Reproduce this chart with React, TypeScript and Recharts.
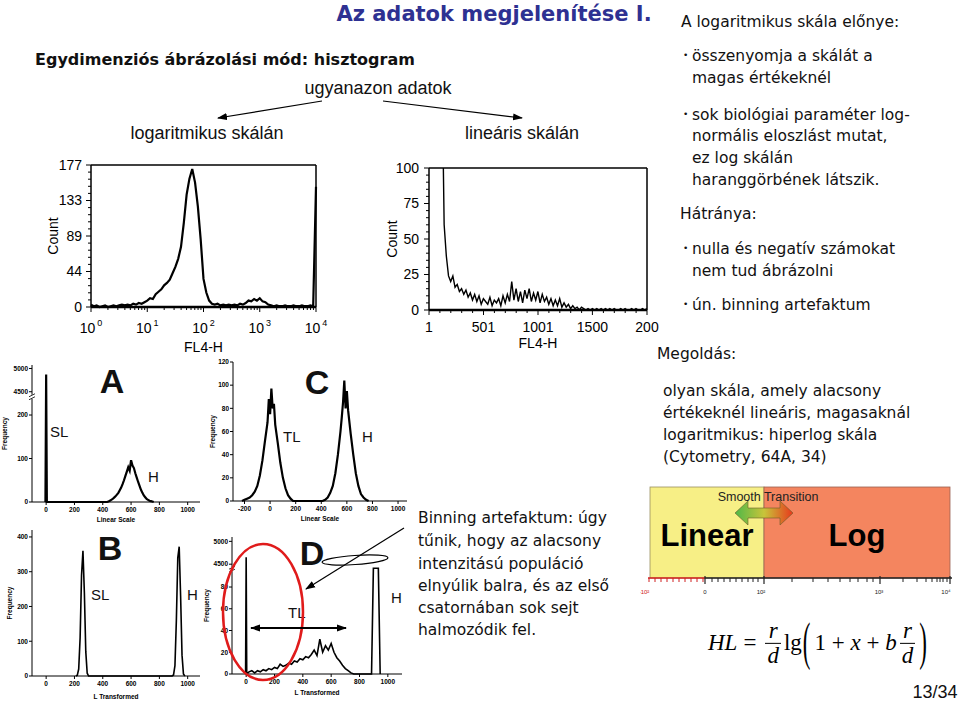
import React from 'react';
import { LineChart, Line, XAxis, YAxis, ReferenceLine } from 'recharts';

const SANS = '"Liberation Sans", Arial, sans-serif';
const HAND = '"DejaVu Sans", sans-serif';
const SERIF = '"Liberation Serif", "Times New Roman", serif';

// log-scale histogram: counts in 0.05-decade bins from 10^0 to 10^4
const logCounts = [
  3, 1, 2, 0, 1, 2, 0, 1, 2, 1,
  2, 3, 2, 3, 2, 4, 3, 5, 4, 6,
  8, 11, 10, 16, 19, 22, 27, 30, 34, 42,
  50, 60, 75, 105, 140, 160, 172, 155, 125, 84,
  35, 18, 8, 4, 3, 4, 2, 3, 2, 3,
  2, 3, 2, 4, 3, 5, 8, 7, 10, 8,
  11, 7, 6, 3, 2, 1, 2, 1, 1, 2,
  1, 1, 2, 1, 1, 2, 1, 1, 2, 1,
  150,
];
const logDecades = [0, 1, 2, 3, 4];
const logCountTicks = [0, 44.25, 88.5, 132.75, 177];

// linear histogram: counts in 20-channel bins from 100 to 2000
const linCounts = [
  400, 170, 60, 38, 24, 20, 24, 16, 18, 13,
  15, 11, 14, 9, 12, 7, 11, 6, 10, 4,
  8, 6, 4, 9, 3, 7, 5, 8, 3, 10,
  5, 11, 6, 20, 7, 15, 6, 13, 5, 14,
  8, 15, 6, 12, 7, 13, 5, 11, 6, 9,
  4, 8, 3, 7, 3, 8, 2, 5, 2, 4,
  1, 3, 1, 2, 0, 2, 1, 0, 1, 0,
  1, 0, 1, 0, 1, 0, 1, 0, 1, 0,
  1, 0, 0, 1, 0, 1, 0, 0, 1, 0,
  1, 0, 0, 1, 0, 1,
];
const linChannelTicks = [1, 501, 1001, 1500, 2001];
const linChannelLabels = ['1', '501', '1001', '1500', '200'];
const linCountTicks = [0, 25, 50, 75, 100];

// panel A (linear scale, SL + H)
const aX = [-5, 0, 5, 430, 440, 450, 460, 470, 480, 490, 500, 510, 520, 530, 540, 550, 560, 570, 580, 590, 600, 610, 620, 630, 640, 650, 660, 670, 680, 690, 700, 710, 720, 730, 740, 750, 760];
const aY = [0, 4870, 0, 0, 1, 3, 5, 7, 10, 13, 17, 21, 27, 33, 41, 50, 60, 70, 80, 72, 96, 84, 78, 66, 56, 46, 37, 28, 21, 15, 11, 7, 5, 3, 2, 1, 0];
const aFreqTicks = [0, 100, 200, 4500, 5000];

// panel B (L transformed, SL + H)
const bX = [210, 220, 230, 240, 250, 260, 270, 280, 290, 300, 890, 900, 910, 920, 930, 940, 950, 960, 970, 980];
const bY = [0, 2, 20, 110, 290, 360, 240, 70, 8, 0, 0, 3, 30, 160, 340, 372, 230, 60, 6, 0];
const bFreqTicks = [0, 100, 200, 300, 400];

// panel C (linear scale, TL + H)
const cX = [-220, -200, -180, -160, -140, -120, -100, -80, -60, -40, -20, -10, 0, 10, 20, 30, 40, 60, 80, 100, 120, 140, 160, 180,
  410, 430, 450, 470, 490, 510, 530, 550, 560, 570, 580, 590, 600, 610, 630, 650, 670, 690, 710, 730, 750, 770];
const cY = [0, 1, 2, 3, 5, 8, 13, 22, 35, 52, 68, 88, 75, 97, 80, 84, 66, 50, 33, 20, 11, 5, 2, 0,
  0, 1, 3, 7, 13, 24, 40, 60, 72, 85, 104, 80, 95, 78, 58, 40, 24, 13, 6, 3, 1, 0];
const cFreqTicks = [0, 20, 40, 60, 80, 100, 120];

// panel D (L transformed, TL + H)
const dX = [-4, 0, 4,
  20, 40, 60, 80, 100, 120, 140, 160, 180, 200,
  220, 240, 260, 280, 300, 320, 340, 360, 380, 400,
  420, 440, 460, 480, 500, 520, 540, 560, 580, 600,
  620, 640, 660, 680, 700, 720, 740, 760,
  885, 898, 933, 946];
const dY = [0, 4650, 0,
  2, 3, 1, 3, 2, 4, 3, 5, 4, 6,
  5, 9, 7, 8, 10, 9, 12, 11, 14, 13,
  16, 15, 18, 22, 17, 32, 20, 26, 22, 28,
  20, 15, 12, 8, 5, 3, 1, 0,
  0, 3000, 3000, 0];
const dFreqTicks = [0, 20, 40, 60, 80, 4500, 5000];

const scaleTicks = [0, 200, 400, 600, 800, 1000];
const cScaleTicks = [-200, 0, 200, 400, 600, 800, 1000];

// broken frequency axes
const breakA = (v: number) => (v <= 200 ? v : v < 4500 ? 200 + ((v - 200) * 53.5) / 4300 : 253.5 + ((v - 4500) * 53.5) / 500);
const breakD = (v: number) => (v <= 90 ? v : v < 4500 ? 90 + ((v - 90) * 11) / 4410 : 101 + ((v - 4500) * 21) / 500);

type TickOpt = { len: number; minor: number; gap: number; font: number; bold?: boolean; brk?: number };

function bottomTick(majors: number[], label: (i: number) => React.ReactNode, o: TickOpt) {
  return (p: any) => {
    const v = p.payload.value;
    const i = majors.findIndex((m) => Math.abs(m - v) < 1e-6);
    return (
      <g>
        <line x1={p.x} x2={p.x} y1={p.y} y2={p.y + (i >= 0 ? o.len : o.minor)} stroke="#000" strokeWidth={1} />
        {i >= 0 && (
          <text x={p.x} y={p.y + o.gap} textAnchor="middle" fontFamily={SANS} fontSize={o.font} fontWeight={o.bold ? 700 : 400} fill="#000">
            {label(i)}
          </text>
        )}
      </g>
    );
  };
}

function leftTick(majors: number[], label: (i: number) => React.ReactNode, o: TickOpt) {
  return (p: any) => {
    const v = p.payload.value;
    const i = majors.findIndex((m) => Math.abs(m - v) < 1e-6);
    return (
      <g>
        <line x1={p.x - (i >= 0 ? o.len : o.minor)} x2={p.x} y1={p.y} y2={p.y} stroke="#000" strokeWidth={1} />
        {i >= 0 && (
          <text x={p.x - o.gap} y={p.y} dy="0.35em" textAnchor="end" fontFamily={SANS} fontSize={o.font} fontWeight={o.bold ? 700 : 400} fill="#000">
            {label(i)}
          </text>
        )}
        {o.brk === i && (
          <g>
            <rect x={p.x - 2} y={p.y + 3} width={4} height={4} fill="#fff" />
            <line x1={p.x - 3} y1={p.y + 5} x2={p.x + 3} y2={p.y + 2} stroke="#000" strokeWidth={0.8} />
            <line x1={p.x - 3} y1={p.y + 8} x2={p.x + 3} y2={p.y + 5} stroke="#000" strokeWidth={0.8} />
          </g>
        )}
      </g>
    );
  };
}

const logMinorX: number[] = [];
for (let d = 0; d < 4; d++) for (let k = 2; k <= 9; k++) logMinorX.push(d + Math.log10(k));
const logMinorY: number[] = [];
for (let i = 1; i < 20; i++) if (i % 5) logMinorY.push(i * 8.85);
const linMinorX: number[] = [];
for (let c = 101; c < 2001; c += 100) if ((c - 1) % 500) linMinorX.push(c);
const linMinorY: number[] = [];
for (let c = 5; c < 100; c += 5) if (c % 25) linMinorY.push(c);

function LogHistogram() {
  const data = logCounts.map((c, i) => ({ x: i * 0.05, y: c }));
  return (
    <LineChart width={300} height={200} data={data} margin={{ top: 10, right: 14, bottom: 2, left: 0 }}>
      <XAxis
        dataKey="x" type="number" domain={[0, 4]} ticks={[...logDecades, ...logMinorX]} interval={0}
        tickSize={0} tickMargin={0} tickLine={false} height={46}
        axisLine={{ stroke: '#000', strokeWidth: 2.5 }}
        tick={bottomTick(logDecades, (i) => (<>10<tspan dx={2} dy={-7} fontSize={9}>{logDecades[i]}</tspan></>), { len: 5, minor: 3, gap: 26, font: 14 })}
        label={{ value: 'FL4-H', position: 'insideBottom', offset: 1, fontSize: 14, fill: '#000', style: { fontFamily: SANS, fontSize: 14 } }}
      />
      <YAxis
        type="number" domain={[0, 177]} ticks={[...logCountTicks, ...logMinorY]} interval={0} width={61}
        tickSize={0} tickMargin={0} tickLine={false}
        axisLine={{ stroke: '#000', strokeWidth: 1.5 }}
        tick={leftTick(logCountTicks, (i) => Math.round(logCountTicks[i]), { len: 5, minor: 3, gap: 9, font: 14 })}
        label={{ value: 'Count', angle: -90, position: 'insideLeft', offset: 23, fill: '#000', style: { textAnchor: 'middle', fontFamily: SANS, fontSize: 14 } }}
      />
      <ReferenceLine y={177} stroke="#000" strokeWidth={1.5} />
      <ReferenceLine x={4} stroke="#000" strokeWidth={1.5} />
      <Line dataKey="y" type="linear" stroke="#000" strokeWidth={2.2} dot={false} isAnimationActive={false} />
    </LineChart>
  );
}

function LinHistogram() {
  const data = linCounts.map((c, i) => ({ x: 100 + i * 20, y: c }));
  return (
    <LineChart width={300} height={200} data={data} margin={{ top: 10, right: 13, bottom: 2, left: 0 }}>
      <XAxis
        dataKey="x" type="number" domain={[1, 2001]} ticks={[...linChannelTicks, ...linMinorX]} interval={0}
        tickSize={0} tickMargin={0} tickLine={false} height={46}
        axisLine={{ stroke: '#000', strokeWidth: 2.5 }}
        tick={bottomTick(linChannelTicks, (i) => linChannelLabels[i], { len: 5, minor: 3, gap: 22, font: 14 })}
        label={{ value: 'FL4-H', position: 'insideBottom', offset: 8, fill: '#000', style: { fontFamily: SANS, fontSize: 14 } }}
      />
      <YAxis
        type="number" domain={[0, 100]} allowDataOverflow ticks={[...linCountTicks, ...linMinorY]} interval={0} width={69}
        tickSize={0} tickMargin={0} tickLine={false}
        axisLine={{ stroke: '#000', strokeWidth: 1.5 }}
        tick={leftTick(linCountTicks, (i) => linCountTicks[i], { len: 5, minor: 3, gap: 10, font: 14 })}
        label={{ value: 'Count', angle: -90, position: 'insideLeft', offset: 32, fill: '#000', style: { textAnchor: 'middle', fontFamily: SANS, fontSize: 14 } }}
      />
      <ReferenceLine y={100} stroke="#000" strokeWidth={1.5} />
      <ReferenceLine x={2001} stroke="#000" strokeWidth={1.5} />
      <Line dataKey="y" type="linear" stroke="#000" strokeWidth={1.4} dot={false} isAnimationActive={false} />
    </LineChart>
  );
}

type PanelProps = {
  width: number; height: number; xs: number[]; ys: number[];
  xDomain: [number, number]; xTicks: number[]; yDomain: [number, number]; yTicks: number[];
  map?: (v: number) => number; brk?: number; xTitle: string; xTitleOffset: number; freqOffset: number;
  yWidth: number; stroke: number;
};

function Panel(p: PanelProps) {
  const f = p.map || ((v: number) => v);
  const data = p.xs.map((x, i) => ({ x, y: f(p.ys[i]) }));
  const yT = p.yTicks.map(f);
  return (
    <LineChart width={p.width} height={p.height} data={data} margin={{ top: 10, right: 5, bottom: 0, left: 0 }}>
      <XAxis
        dataKey="x" type="number" domain={p.xDomain} ticks={p.xTicks} interval={0}
        tickSize={0} tickMargin={0} tickLine={false} height={26}
        axisLine={{ stroke: '#000', strokeWidth: 1 }}
        tick={bottomTick(p.xTicks, (i) => p.xTicks[i], { len: 3, minor: 3, gap: 9.5, font: 6.5, bold: true })}
        label={{ value: p.xTitle, position: 'insideBottom', offset: p.xTitleOffset, fill: '#000', style: { fontFamily: SANS, fontSize: 6.5, fontWeight: 700 } }}
      />
      <YAxis
        type="number" domain={p.yDomain} ticks={yT} interval={0} width={p.yWidth}
        tickSize={0} tickMargin={0} tickLine={false}
        axisLine={{ stroke: '#000', strokeWidth: 1 }}
        tick={leftTick(yT, (i) => p.yTicks[i], { len: 3, minor: 3, gap: 4, font: 6.5, bold: true, brk: p.brk })}
        label={{ value: 'Frequency', angle: -90, position: 'insideLeft', offset: p.freqOffset, fill: '#000', style: { textAnchor: 'middle', fontFamily: SANS, fontSize: 6.5, fontWeight: 700 } }}
      />
      <Line dataKey="y" type="linear" stroke="#000" strokeWidth={p.stroke} dot={false} isAnimationActive={false} />
    </LineChart>
  );
}

const Txt = ({ x, y, size, family = HAND, weight = 400, color = '#111', center = false, italic = false, children }: any) => (
  <div
    style={{
      position: 'absolute', left: x, top: y, fontSize: size, fontFamily: family, fontWeight: weight, color,
      fontStyle: italic ? 'italic' : 'normal', whiteSpace: 'nowrap', lineHeight: 1,
      transform: center ? 'translate(-50%, -50%)' : 'translateY(-50%)',
    }}
  >
    {children}
  </div>
);

const Bullet = ({ x, y, children }: any) => (
  <>
    <Txt x={x} y={y - 2} size={9}>•</Txt>
    <Txt x={x + 9} y={y} size={15.5}>{children}</Txt>
  </>
);

const Frac = ({ n, d }: any) => (
  <span style={{ display: 'inline-flex', flexDirection: 'column', alignItems: 'center', margin: '0 3px' }}>
    <span style={{ lineHeight: 1.05, padding: '0 2px' }}>{n}</span>
    <span style={{ lineHeight: 1.05, padding: '0 2px', borderTop: '1px solid #000', alignSelf: 'stretch', textAlign: 'center' }}>{d}</span>
  </span>
);

const BigParen = ({ c }: any) => (
  <span style={{ display: 'inline-block', transform: 'scaleY(2.3)', fontStyle: 'normal', margin: '0 1px' }}>{c}</span>
);

// hyperlog illustration (decorative picture in the slide)
const redTicks = [9, 15, 21, 27, 33, 39, 45, 51, 57, 63];
const linRegionTicks = [72, 78, 84, 90, 96, 102, 108, 113, 118];
const logRegionTicks = [152, 173, 188, 200, 210, 218, 227, 233, 263, 277, 286, 292, 297, 300, 303, 307];
const hlMajor = [65, 124, 240, 310];

function HyperlogPicture() {
  return (
    <svg width={320} height={120} style={{ position: 'absolute', left: 640, top: 480 }}>
      <defs>
        <linearGradient id="st" x1="0" x2="1" y1="0" y2="0">
          <stop offset="0" stopColor="#4fb848" />
          <stop offset="0.5" stopColor="#c8c43a" />
          <stop offset="1" stopColor="#e8381c" />
        </linearGradient>
      </defs>
      <rect x={10} y={7} width={114} height={91} fill="#f7ef86" stroke="#9a9060" strokeWidth={0.8} />
      <rect x={124} y={7} width={186} height={91} fill="#f4855f" stroke="#9a6050" strokeWidth={0.8} />
      <text x={67} y={66} textAnchor="middle" fontFamily={SANS} fontWeight={700} fontSize={31} fill="#000">Linear</text>
      <text x={217} y={66} textAnchor="middle" fontFamily={SANS} fontWeight={700} fontSize={31} fill="#000">Log</text>
      <polygon points="95,33 108,21 108,28 140,28 140,21 153,33 140,45 140,38 108,38 108,45" fill="url(#st)" stroke="#6b5a2a" strokeWidth={0.6} />
      <text x={128} y={21} textAnchor="middle" fontFamily={SANS} fontSize={12.5} fill="#222">Smooth Transition</text>
      <line x1={8} x2={65} y1={98} y2={98} stroke="#d02020" strokeWidth={1.4} />
      <line x1={65} x2={312} y1={98} y2={98} stroke="#222" strokeWidth={1.4} />
      {redTicks.map((t) => <line key={'r' + t} x1={t} x2={t} y1={98} y2={102} stroke="#d02020" strokeWidth={1} />)}
      {linRegionTicks.concat(logRegionTicks).map((t) => <line key={'b' + t} x1={t} x2={t} y1={98} y2={102} stroke="#222" strokeWidth={1} />)}
      {hlMajor.map((t) => <line key={'m' + t} x1={t} x2={t} y1={96} y2={104} stroke="#222" strokeWidth={1.2} />)}
      <text x={4} y={114} textAnchor="middle" fontFamily={SANS} fontSize={6} fill="#d02020">-10²</text>
      <text x={65} y={114} textAnchor="middle" fontFamily={SANS} fontSize={6} fill="#222">0</text>
      <text x={121} y={114} textAnchor="middle" fontFamily={SANS} fontSize={6} fill="#222">10²</text>
      <text x={239} y={114} textAnchor="middle" fontFamily={SANS} fontSize={6} fill="#222">10³</text>
      <text x={306} y={114} textAnchor="middle" fontFamily={SANS} fontSize={6} fill="#222">10⁴</text>
    </svg>
  );
}

export default function App() {
  return (
    <div style={{ position: 'absolute', left: 0, top: 0, width: 960, height: 703, background: '#fff', overflow: 'hidden' }}>
      <Txt x={494} y={14} size={21} weight={700} color="#2e3192" center>Az adatok megjelenítése I.</Txt>
      <Txt x={35} y={60} size={16} weight={700}>Egydimenziós ábrázolási mód: hisztogram</Txt>
      <Txt x={378} y={88} size={18} family={SANS} center>ugyanazon adatok</Txt>
      <Txt x={207} y={133} size={18} family={SANS} center>logaritmikus skálán</Txt>
      <Txt x={522} y={133} size={18} family={SANS} center>lineáris skálán</Txt>

      <div style={{ position: 'absolute', left: 30, top: 155 }}><LogHistogram /></div>
      <div style={{ position: 'absolute', left: 360, top: 158 }}><LinHistogram /></div>

      <div style={{ position: 'absolute', left: 0, top: 355 }}>
        <Panel width={205} height={173} xs={aX} ys={aY} xDomain={[-100, 1087]} xTicks={scaleTicks} yDomain={[0, 315]} yTicks={aFreqTicks}
          map={breakA} brk={3} xTitle="Linear Scale" xTitleOffset={6} freqOffset={5} yWidth={32} stroke={2.2} />
      </div>
      <div style={{ position: 'absolute', left: 200, top: 352 }}>
        <Panel width={212} height={175} xs={cX} ys={cY} xDomain={[-290, 1070]} xTicks={cScaleTicks} yDomain={[0, 120]} yTicks={cFreqTicks}
          xTitle="Linear Scale" xTitleOffset={6} freqOffset={13} yWidth={33} stroke={2.2} />
      </div>
      <div style={{ position: 'absolute', left: 0, top: 520 }}>
        <Panel width={205} height={182} xs={bX} ys={bY} xDomain={[-100, 1087]} xTicks={scaleTicks} yDomain={[0, 420]} yTicks={bFreqTicks}
          xTitle="L Transformed" xTitleOffset={3} freqOffset={10} yWidth={32} stroke={1.6} />
      </div>
      <div style={{ position: 'absolute', left: 199, top: 527 }}>
        <Panel width={208} height={173} xs={dX} ys={dY} xDomain={[-100, 1100]} xTicks={scaleTicks} yDomain={[0, 126]} yTicks={dFreqTicks}
          map={breakD} brk={5} xTitle="L Transformed" xTitleOffset={5} freqOffset={8} yWidth={33} stroke={1.6} />
      </div>

      <Txt x={112} y={381} size={34} family={SANS} weight={900} center>A</Txt>
      <Txt x={50} y={431} size={15} family={SANS}>SL</Txt>
      <Txt x={148} y={476} size={15} family={SANS}>H</Txt>
      <Txt x={317} y={382} size={34} family={SANS} weight={900} center>C</Txt>
      <Txt x={283} y={436} size={15} family={SANS}>TL</Txt>
      <Txt x={362} y={436} size={15} family={SANS}>H</Txt>
      <Txt x={110} y={548} size={34} family={SANS} weight={900} center>B</Txt>
      <Txt x={91} y={594} size={15} family={SANS}>SL</Txt>
      <Txt x={187} y={594} size={15} family={SANS}>H</Txt>
      <Txt x={312} y={553} size={34} family={SANS} weight={900} center>D</Txt>
      <Txt x={288} y={612} size={15} family={SANS}>TL</Txt>
      <Txt x={391} y={597} size={15} family={SANS}>H</Txt>

      <svg width={960} height={703} style={{ position: 'absolute', left: 0, top: 0, pointerEvents: 'none' }}>
        <defs>
          <marker id="ah" markerWidth={10} markerHeight={8} refX={9} refY={4} orient="auto" markerUnits="userSpaceOnUse">
            <path d="M0,0.5 L10,4 L0,7.5 z" fill="#000" />
          </marker>
          <marker id="ah2" markerWidth={10} markerHeight={8} refX={9} refY={4} orient="auto-start-reverse" markerUnits="userSpaceOnUse">
            <path d="M0,0.5 L10,4 L0,7.5 z" fill="#000" />
          </marker>
        </defs>
        <line x1={322} y1={101} x2={218} y2={118} stroke="#000" strokeWidth={1.2} markerEnd="url(#ah)" />
        <line x1={383} y1={101} x2={522} y2={118} stroke="#000" strokeWidth={1.2} markerEnd="url(#ah)" />
        <ellipse cx={263} cy={612} rx={40} ry={68} fill="none" stroke="#e01b1b" strokeWidth={2.5} />
        <line x1={404} y1={528} x2={306} y2={589} stroke="#000" strokeWidth={1.2} markerEnd="url(#ah)" />
        <ellipse cx={355} cy={560} rx={33} ry={4.5} transform="rotate(-4 355 560)" fill="none" stroke="#000" strokeWidth={1.2} />
        <line x1={251} y1={628} x2={346} y2={628} stroke="#000" strokeWidth={2} markerStart="url(#ah2)" markerEnd="url(#ah2)" />
      </svg>

      <Txt x={681} y={23} size={15.5}>A logaritmikus skála előnye:</Txt>
      <Bullet x={683} y={57}>összenyomja a skálát a</Bullet>
      <Txt x={692} y={79} size={15.5}>magas értékeknél</Txt>
      <Bullet x={683} y={116}>sok biológiai paraméter log-</Bullet>
      <Txt x={692} y={137} size={15.5}>normális eloszlást mutat,</Txt>
      <Txt x={692} y={159} size={15.5}>ez log skálán</Txt>
      <Txt x={692} y={181} size={15.5}>haranggörbének látszik.</Txt>
      <Txt x={680} y={215} size={15.5}>Hátránya:</Txt>
      <Bullet x={683} y={250}>nulla és negatív számokat</Bullet>
      <Txt x={692} y={272} size={15.5}>nem tud ábrázolni</Txt>
      <Bullet x={683} y={306}>ún. binning artefaktum</Bullet>
      <Txt x={657} y={355} size={15.5}>Megoldás:</Txt>
      <Txt x={663} y={392} size={15.5}>olyan skála, amely alacsony</Txt>
      <Txt x={663} y={414} size={15.5}>értékeknél lineáris, magasaknál</Txt>
      <Txt x={663} y={436} size={15.5}>logaritmikus: hiperlog skála</Txt>
      <Txt x={663} y={458} size={15.5}>(Cytometry, 64A, 34)</Txt>

      <Txt x={418} y={519} size={15.5}>Binning artefaktum: úgy</Txt>
      <Txt x={418} y={542} size={15.5}>tűnik, hogy az alacsony</Txt>
      <Txt x={418} y={565} size={15.5}>intenzitású populáció</Txt>
      <Txt x={418} y={587} size={15.5}>elnyúlik balra, és az első</Txt>
      <Txt x={418} y={609} size={15.5}>csatornában sok sejt</Txt>
      <Txt x={418} y={631} size={15.5}>halmozódik fel.</Txt>

      <HyperlogPicture />

      <div style={{ position: 'absolute', left: 708, top: 643, transform: 'translateY(-50%)', display: 'flex', alignItems: 'center', fontFamily: SERIF, fontSize: 23, color: '#000', whiteSpace: 'nowrap' }}>
        <i>HL</i>
        <span style={{ margin: '0 6px' }}>=</span>
        <i><Frac n="r" d="d" /></i>
        <span>lg</span>
        <BigParen c="(" />
        <span style={{ marginLeft: 3 }}>1 +&nbsp;</span>
        <i>x</i>
        <span>&nbsp;+&nbsp;</span>
        <i>b</i>
        <i><Frac n="r" d="d" /></i>
        <BigParen c=")" />
      </div>

      <Txt x={935} y={692} size={18} family={SANS} center>13/34</Txt>
    </div>
  );
}
